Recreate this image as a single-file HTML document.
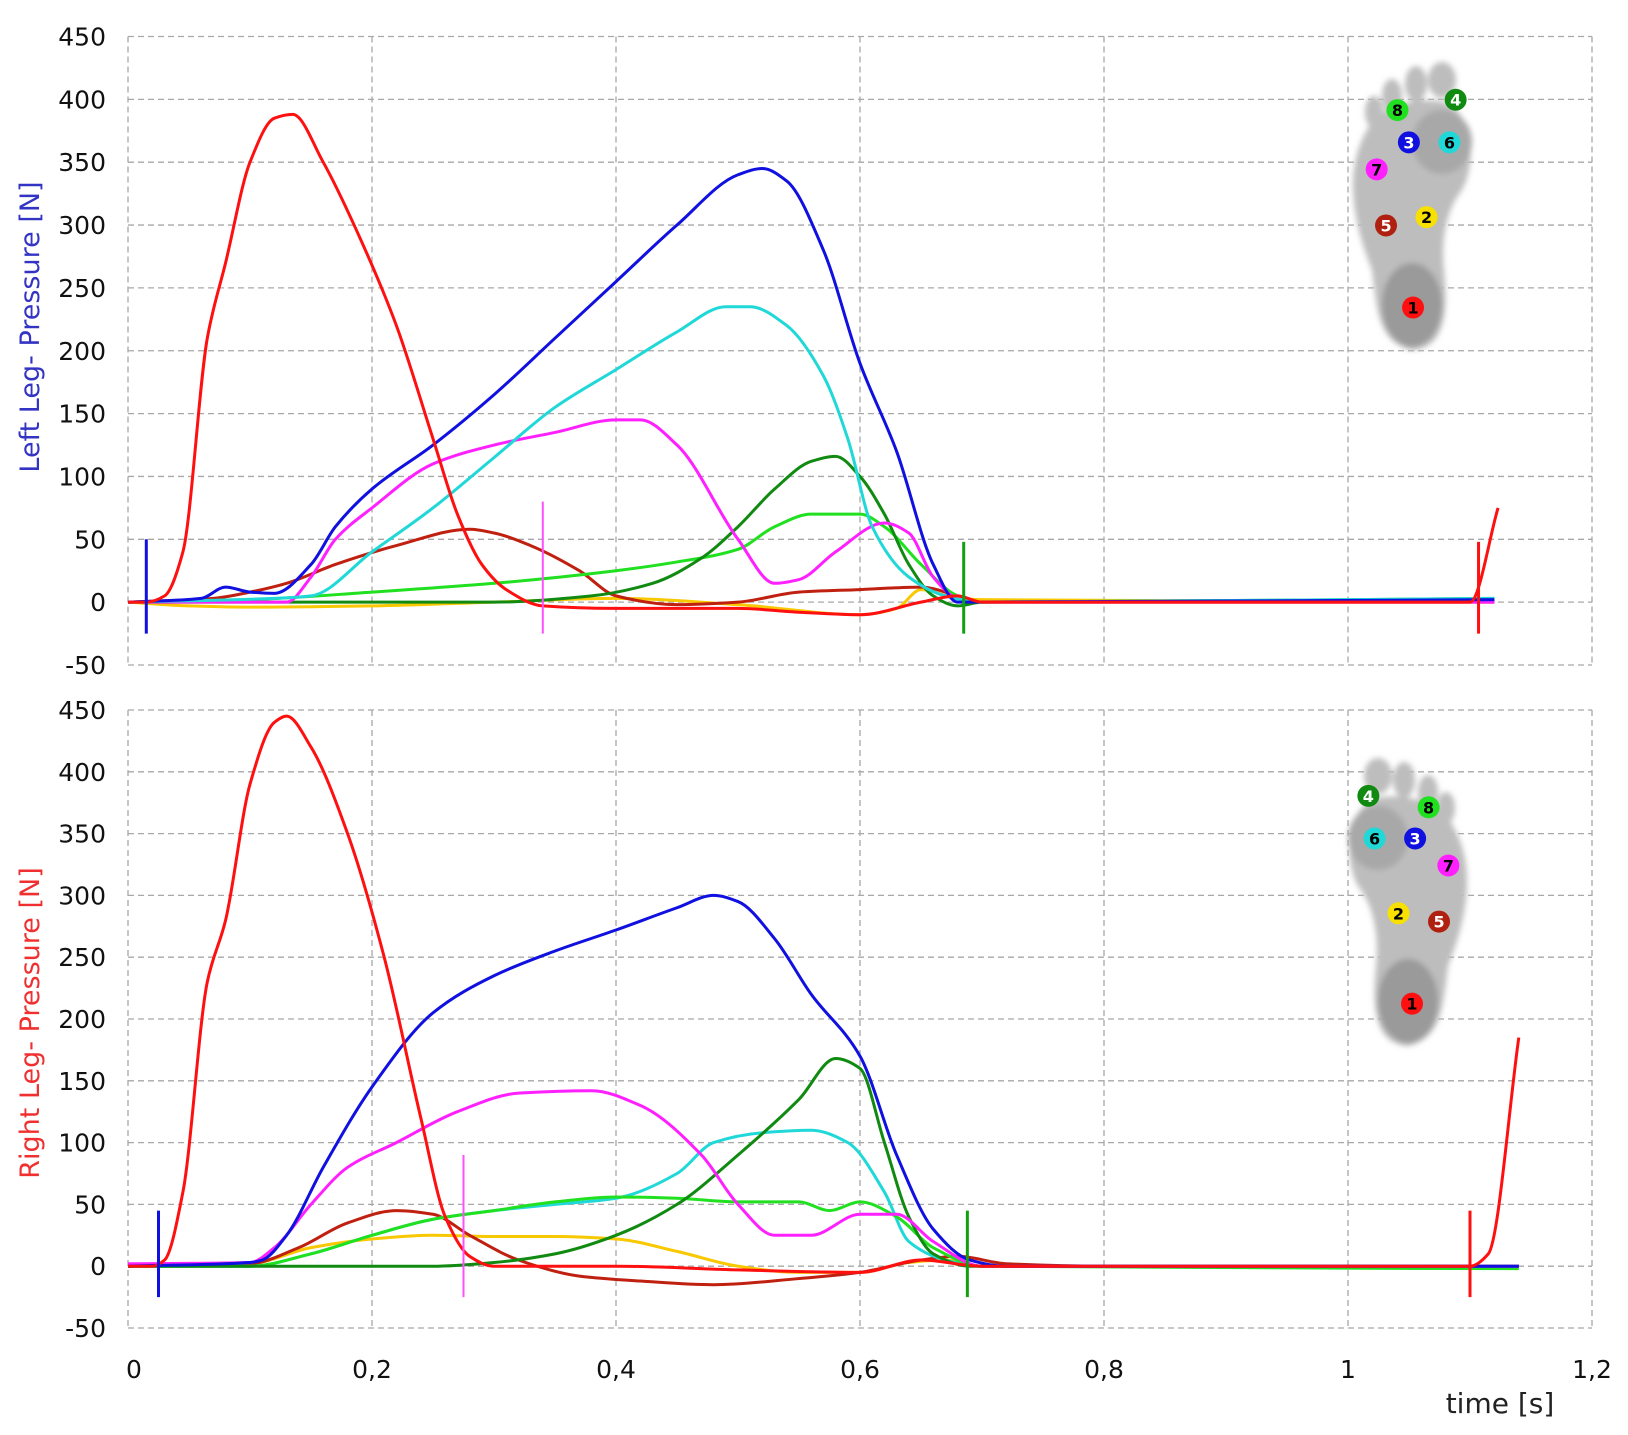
<!DOCTYPE html>
<html><head><meta charset="utf-8"><style>
html,body{margin:0;padding:0;background:#fff;}
svg{display:block;font-family:"DejaVu Sans","Liberation Sans",sans-serif;}
</style></head><body>
<svg id="chart" width="1628" height="1435" viewBox="0 0 1628 1435" xmlns="http://www.w3.org/2000/svg">
<defs>
<filter id="blur" x="-20%" y="-20%" width="140%" height="140%"><feGaussianBlur stdDeviation="3"/></filter>
</defs>
<g id="grid"></g>
<g id="feet"></g>
<g id="series"></g>
<g id="labels"></g>
</svg>
<script>
const NS="http://www.w3.org/2000/svg";
// ---- data: top (left leg) ----
const L_red_t=[0,0.015,0.03,0.045,0.065,0.08,0.1,0.12,0.135,0.16,0.19,0.22,0.25,0.27,0.29,0.31,0.34,0.4,0.5,0.55,0.6,0.65,0.68,0.7,1.1,1.123];
const L_red_v=[0,0,5,40,210,270,350,385,388,350,290,220,130,70,30,10,-3,-5,-5,-8,-10,0,5,0,0,75];
const L_blue_t=[0,0.06,0.08,0.1,0.12,0.15,0.17,0.2,0.25,0.3,0.35,0.4,0.45,0.5,0.52,0.54,0.57,0.6,0.63,0.66,0.68,1.12];
const L_blue_v=[0,3,12,8,7,30,60,90,125,165,210,255,300,340,345,335,280,190,120,30,0,2];
const L_cyan_t=[0,0.12,0.15,0.2,0.25,0.3,0.35,0.4,0.45,0.49,0.51,0.54,0.57,0.59,0.61,0.64,0.67,0.7,1.12];
const L_cyan_v=[0,3,5,40,75,115,155,185,215,235,235,220,180,130,60,20,5,0,3];
const L_mag_t=[0,0.13,0.15,0.17,0.2,0.25,0.3,0.35,0.4,0.42,0.45,0.5,0.53,0.55,0.58,0.62,0.64,0.66,0.68,0.7,1.12];
const L_mag_v=[0,0,20,50,75,110,125,135,145,145,125,50,15,18,40,63,55,20,3,0,0];
const L_dred_t=[0,0.07,0.1,0.13,0.17,0.22,0.28,0.3,0.33,0.37,0.4,0.45,0.5,0.55,0.6,0.65,0.68,0.7,1.12];
const L_dred_v=[0,3,8,15,30,45,58,55,45,25,5,-2,0,8,10,12,5,0,0];
const L_dgreen_t=[0,0.3,0.38,0.43,0.47,0.5,0.53,0.56,0.58,0.6,0.62,0.64,0.66,0.68,0.7,1.12];
const L_dgreen_v=[0,0,5,15,35,60,90,112,116,100,70,30,5,-3,0,1];
const L_green_t=[0,0.1,0.2,0.3,0.4,0.45,0.5,0.53,0.56,0.6,0.62,0.65,0.68,0.7,1.12];
const L_green_v=[0,2,8,15,25,32,42,60,70,70,60,30,5,0,3];
const L_yel_t=[0,0.05,0.1,0.2,0.3,0.4,0.5,0.6,0.63,0.65,0.68,0.7,1.12];
const L_yel_v=[0,-3,-4,-3,0,3,-2,-10,-5,10,3,2,0];
const L_mark_t=[0.015,0.34,0.685,1.107];
const L_mark_top=[50,80,48,48];
// ---- data: bottom (right leg) ----
const R_red_t=[0,0.02,0.03,0.045,0.065,0.08,0.1,0.12,0.13,0.15,0.18,0.21,0.24,0.26,0.28,0.3,0.4,0.5,0.6,0.65,0.7,1.1,1.115,1.14];
const R_red_v=[0,0,5,60,230,280,390,440,445,420,350,250,120,40,8,0,0,-3,-5,5,0,0,10,185];
const R_blue_t=[0,0.1,0.11,0.13,0.16,0.2,0.25,0.3,0.35,0.4,0.45,0.48,0.5,0.53,0.56,0.6,0.63,0.66,0.69,0.72,1.14];
const R_blue_v=[0,3,5,25,80,145,205,235,255,272,290,300,295,265,220,170,90,30,5,0,0];
const R_mag_t=[0,0.1,0.12,0.15,0.18,0.22,0.27,0.32,0.38,0.42,0.47,0.5,0.53,0.56,0.6,0.63,0.66,0.7,1.14];
const R_mag_v=[2,3,15,50,80,100,125,140,142,130,90,50,25,25,42,42,20,0,0];
const R_cyan_t=[0,0.1,0.15,0.2,0.25,0.3,0.35,0.4,0.45,0.48,0.52,0.56,0.59,0.62,0.64,0.67,0.7,1.14];
const R_cyan_v=[0,0,10,25,38,45,50,55,75,100,108,110,100,60,20,5,0,0];
const R_green_t=[0,0.1,0.15,0.2,0.25,0.3,0.35,0.4,0.45,0.5,0.55,0.575,0.6,0.63,0.66,0.7,1.14];
const R_green_v=[0,0,10,25,38,45,52,56,55,52,52,45,52,40,15,0,-2];
const R_dgreen_t=[0,0.25,0.3,0.35,0.4,0.45,0.5,0.55,0.58,0.6,0.62,0.64,0.66,0.69,1.14];
const R_dgreen_v=[0,0,3,10,25,50,90,135,168,160,100,40,10,0,0];
const R_dred_t=[0,0.1,0.14,0.18,0.22,0.25,0.28,0.32,0.37,0.42,0.48,0.55,0.6,0.65,0.68,0.72,0.8,1.14];
const R_dred_v=[0,2,15,35,45,42,25,5,-8,-12,-15,-10,-5,5,8,2,0,0];
const R_yel_t=[0,0.1,0.15,0.2,0.25,0.3,0.35,0.4,0.45,0.5,0.55,0.6,0.64,0.67,0.7,1.14];
const R_yel_v=[0,2,15,22,25,24,24,22,12,0,-5,-5,3,5,0,0];
const R_mark_t=[0.025,0.275,0.688,1.1];
const R_mark_top=[45,90,45,45];
const yTicks=[450,400,350,300,250,200,150,100,50,0,-50];
const xTicks=[0,0.2,0.4,0.6,0.8,1,1.2];
const xTickLabels=["0","0,2","0,4","0,6","0,8","1","1,2"];

const X0=128, XS=1220;
const panels=[{top:36.5,bot:665,name:"left"},{top:710,bot:1328,name:"right"}];
function xs(t){return X0+t*XS;}
function ysF(p){return v=>p.top+(450-v)/500*(p.bot-p.top);}
function mk(tag,attrs,parent){const e=document.createElementNS(NS,tag);for(const k in attrs)e.setAttribute(k,attrs[k]);parent.appendChild(e);return e;}
const grid=document.getElementById('grid'),ser=document.getElementById('series'),lab=document.getElementById('labels'),feet=document.getElementById('feet');
const gs={stroke:"#a8a8a8","stroke-width":1.3,"stroke-dasharray":"6,4",fill:"none"};
panels.forEach((p,pi)=>{
  const ys=ysF(p);
  yTicks.forEach(v=>{
    const l=mk('line',Object.assign({x1:X0,x2:xs(1.2),y1:ys(v),y2:ys(v)},gs),grid);
    
    
    const t=mk('text',{x:106,y:ys(v)+9,"text-anchor":"end","font-size":25,fill:"#111"},lab);
    t.textContent=v;
    
    
  });
  xTicks.forEach(v=>{
    const l=mk('line',Object.assign({x1:xs(v),x2:xs(v),y1:p.top,y2:p.bot},gs),grid);
    
    
  });
});
xTicks.forEach((v,i)=>{
  const t=mk('text',{x:xs(v)+(i==0?6:0),y:1378,"text-anchor":"middle","font-size":25,fill:"#111"},lab);
  t.textContent=xTickLabels[i];
  
  
});
let tt=mk('text',{x:1500,y:1413,"text-anchor":"middle","font-size":28,fill:"#222"},lab);tt.textContent="time [s]";


let a1=mk('text',{x:0,y:0,transform:"translate(39,327) rotate(-90)","text-anchor":"middle","font-size":27,fill:"#3434c4"},lab);a1.textContent="Left Leg- Pressure [N]";


let a2=mk('text',{x:0,y:0,transform:"translate(39,1023) rotate(-90)","text-anchor":"middle","font-size":27,fill:"#f03030"},lab);a2.textContent="Right Leg- Pressure [N]";



// monotone cubic interpolation (no overshoot)
function smooth(pts){
  const n=pts.length,dx=[],m=[],sl=[];
  for(let i=0;i<n-1;i++){dx[i]=pts[i+1][0]-pts[i][0];sl[i]=(pts[i+1][1]-pts[i][1])/dx[i];}
  m[0]=sl[0];m[n-1]=sl[n-2];
  for(let i=1;i<n-1;i++){
    if(sl[i-1]*sl[i]<=0)m[i]=0;
    else{const w1=2*dx[i]+dx[i-1],w2=dx[i]+2*dx[i-1];m[i]=(w1+w2)/(w1/sl[i-1]+w2/sl[i]);}
  }
  let d="M"+pts[0][0]+","+pts[0][1];
  for(let i=0;i<n-1;i++){
    const h=dx[i]/3;
    d+=` C${pts[i][0]+h},${pts[i][1]+m[i]*h} ${pts[i+1][0]-h},${pts[i+1][1]-m[i+1]*h} ${pts[i+1][0]},${pts[i+1][1]}`;
  }
  return d;
}
const setsL=[["yellow",L_yel_t,L_yel_v,"#f8c800"],["dark-red",L_dred_t,L_dred_v,"#c02010"],["green",L_green_t,L_green_v,"#20e020"],["dark-green",L_dgreen_t,L_dgreen_v,"#108a10"],["magenta",L_mag_t,L_mag_v,"#ff20ff"],["cyan",L_cyan_t,L_cyan_v,"#20d8d8"],["blue",L_blue_t,L_blue_v,"#1010e0"],["red",L_red_t,L_red_v,"#ff1010"]];
const setsR=[["yellow",R_yel_t,R_yel_v,"#f8c800"],["dark-red",R_dred_t,R_dred_v,"#c02010"],["cyan",R_cyan_t,R_cyan_v,"#20d8d8"],["green",R_green_t,R_green_v,"#20e020"],["dark-green",R_dgreen_t,R_dgreen_v,"#108a10"],["magenta",R_mag_t,R_mag_v,"#ff20ff"],["blue",R_blue_t,R_blue_v,"#1010e0"],["red",R_red_t,R_red_v,"#ff1010"]];
[[setsL,L_mark_t,L_mark_top],[setsR,R_mark_t,R_mark_top]].forEach(([sets,mt,mtop],pi)=>{
  const ys=ysF(panels[pi]);
  sets.forEach(([nm,t,v,c])=>{
    const pts=t.map((x,i)=>[xs(x),ys(v[i])]);
    const pa=mk('path',{d:smooth(pts),stroke:c,"stroke-width":3,fill:"none","stroke-linejoin":"round"},ser);
    
    
  });
  const mc=["#1010e0","#ff50ff","#10a010","#ff1010"];
  mt.forEach((t,i)=>{
    const l=mk('line',{x1:xs(t),x2:xs(t),y1:ys(mtop[i]),y2:ys(-25),stroke:mc[i],"stroke-width":i==1?2:3},ser);
    
    
  });
});
// feet
function foot(cx,top,mirror,name){
  const g=mk('g',{transform:`translate(${cx},${top}) scale(${mirror?-1:1},1)`},feet);
  
  
  const sh=mk('g',{filter:"url(#blur)",fill:"#bdbdbd"},g);
  mk('path',{d:"M-45,60 C-68,100 -60,150 -40,200 C-35,240 -34,272 0,280 C34,278 36,240 32,200 C29,170 34,140 50,120 C66,90 60,42 32,32 C0,26 -34,38 -45,60 Z"},sh);
  mk('ellipse',{cx:0,cy:235,rx:30,ry:42,fill:"#9a9a9a"},sh);
  mk('ellipse',{cx:30,cy:72,rx:30,ry:32,fill:"#a8a8a8"},sh);
  [[-38,42,9,16],[-20,26,10,17],[4,14,11,18],[30,10,14,18]].forEach(a=>mk('ellipse',{cx:a[0],cy:a[1],rx:a[2],ry:a[3]},sh));
}
function circ(cx,cy,c,n,tc){
  const ci=mk('circle',{cx,cy,r:11,fill:c},feet);
  
  
  const t=mk('text',{x:cx,y:cy+6,"text-anchor":"middle","font-size":16,"font-weight":"bold",fill:tc},feet);t.textContent=n;
}
foot(1412,70,false,'left-foot-diagram');
foot(1408,766,true,'right-foot-diagram');
const S=1.039;
const cols={1:["#ff1010","#000"],2:["#f8e000","#000"],3:["#1010e0","#fff"],4:["#108a10","#fff"],5:["#b02010","#fff"],6:["#20d8d8","#000"],7:["#ff20ff","#000"],8:["#20e020","#000"]};
[[8,1345,106],[4,1401,96],[3,1356,137],[6,1395,137],[7,1325,163],[5,1334,217],[2,1373,209],[1,1360,296],
 [4,1317,766],[8,1375,777],[6,1323,807],[3,1362,807],[7,1394,833],[2,1346,879],[5,1385,887],[1,1359,966]].forEach(a=>circ(a[1]*S,a[2]*S,cols[a[0]][0],a[0],cols[a[0]][1]));
</script>
</body></html>
